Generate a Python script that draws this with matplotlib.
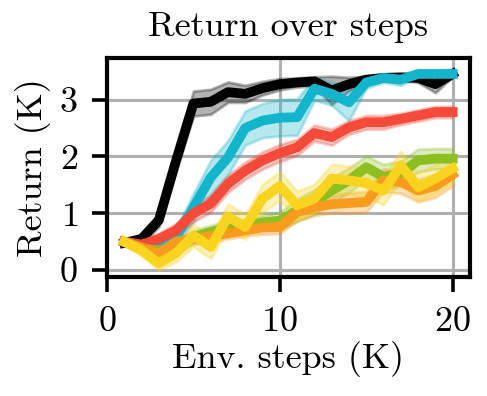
import numpy as np
import matplotlib
matplotlib.use("Agg")
import matplotlib.pyplot as plt

plt.rcParams.update({
    "font.family": "cmr10",
    "mathtext.fontset": "cm",
    "axes.formatter.use_mathtext": True,
    "axes.unicode_minus": False,
})

steps = np.arange(1, 21)

black_mean = [0.48, 0.55, 0.88, 1.93, 2.93, 2.96, 3.13, 3.10, 3.20, 3.27,
              3.30, 3.32, 3.16, 3.27, 3.35, 3.38, 3.39, 3.38, 3.27, 3.45]
black_err = [0.05, 0.08, 0.12, 0.18, 0.22, 0.22, 0.18, 0.15, 0.12, 0.10,
             0.08, 0.08, 0.25, 0.12, 0.06, 0.05, 0.05, 0.08, 0.15, 0.05]

cyan_mean = [0.50, 0.44, 0.45, 0.58, 1.10, 1.63, 1.98, 2.50, 2.63, 2.68,
             2.69, 3.19, 3.10, 2.95, 3.30, 3.38, 3.35, 3.45, 3.45, 3.45]
cyan_err = [0.05, 0.08, 0.10, 0.15, 0.25, 0.30, 0.30, 0.30, 0.30, 0.32,
            0.32, 0.20, 0.20, 0.32, 0.10, 0.08, 0.10, 0.06, 0.06, 0.08]

red_mean = [0.50, 0.45, 0.55, 0.70, 1.00, 1.17, 1.52, 1.75, 1.93, 2.06,
            2.16, 2.41, 2.34, 2.51, 2.60, 2.60, 2.66, 2.72, 2.78, 2.78]
red_err = [0.05, 0.08, 0.10, 0.12, 0.15, 0.15, 0.15, 0.15, 0.15, 0.15,
           0.14, 0.14, 0.14, 0.12, 0.12, 0.12, 0.10, 0.10, 0.10, 0.10]

green_mean = [0.50, 0.38, 0.35, 0.40, 0.58, 0.67, 0.75, 0.78, 0.84, 0.87,
              1.05, 1.20, 1.40, 1.58, 1.81, 1.64, 1.70, 1.93, 1.96, 1.96]
green_err = [0.05, 0.08, 0.10, 0.10, 0.12, 0.12, 0.12, 0.12, 0.12, 0.15,
             0.20, 0.22, 0.22, 0.22, 0.20, 0.22, 0.22, 0.20, 0.18, 0.18]

orange_mean = [0.50, 0.40, 0.30, 0.50, 0.55, 0.60, 0.65, 0.70, 0.75, 0.76,
               1.02, 1.11, 1.16, 1.18, 1.20, 1.58, 1.55, 1.40, 1.48, 1.68]
orange_err = [0.05, 0.08, 0.10, 0.10, 0.10, 0.10, 0.10, 0.10, 0.12, 0.12,
              0.15, 0.15, 0.15, 0.18, 0.18, 0.20, 0.20, 0.20, 0.20, 0.20]

yellow_mean = [0.50, 0.35, 0.12, 0.30, 0.61, 0.41, 0.94, 0.76, 1.26, 1.48,
               1.14, 1.26, 1.61, 1.58, 1.53, 1.40, 1.84, 1.46, 1.61, 1.79]
yellow_err = [0.05, 0.10, 0.12, 0.15, 0.20, 0.20, 0.22, 0.22, 0.25, 0.25,
              0.25, 0.25, 0.25, 0.25, 0.25, 0.25, 0.25, 0.25, 0.25, 0.25]

series = [
    (black_mean, black_err, "#000000"),
    (cyan_mean, cyan_err, "#12B5CB"),
    (red_mean, red_err, "#F5493A"),
    (green_mean, green_err, "#8CBF1F"),
    (orange_mean, orange_err, "#F99B1C"),
    (yellow_mean, yellow_err, "#F9D41E"),
]

fig = plt.figure(figsize=(4.87 / 2, 3.96 / 2), dpi=200)
ax = fig.add_axes([0.2197, 0.3005, 0.7453, 0.553])

for mean, err, color in series:
    m = np.array(mean)
    e = np.array(err)
    ax.fill_between(steps, m - e, m + e, color=color, alpha=0.3, linewidth=1.0)
    ax.plot(steps, m, color=color, linewidth=3.5)

ax.set_xlim(0, 21)
ax.set_ylim(-0.12, 3.73)
ax.set_xticks([0, 10, 20])
ax.set_yticks([0, 1, 2, 3])
ax.grid(True, color="#b0b0b0", linewidth=1.1)
ax.set_axisbelow(True)
for sp in ax.spines.values():
    sp.set_linewidth(1.5)
ax.tick_params(direction="out", length=5.5, width=1.3, labelsize=13, pad=5)

ax.set_title("Return over steps", fontsize=13, pad=8)
ax.set_xlabel("Env. steps (K)", fontsize=13, labelpad=1)
ax.set_ylabel("Return (K)", fontsize=13, labelpad=3)

fig.savefig("out.png", dpi=200)
